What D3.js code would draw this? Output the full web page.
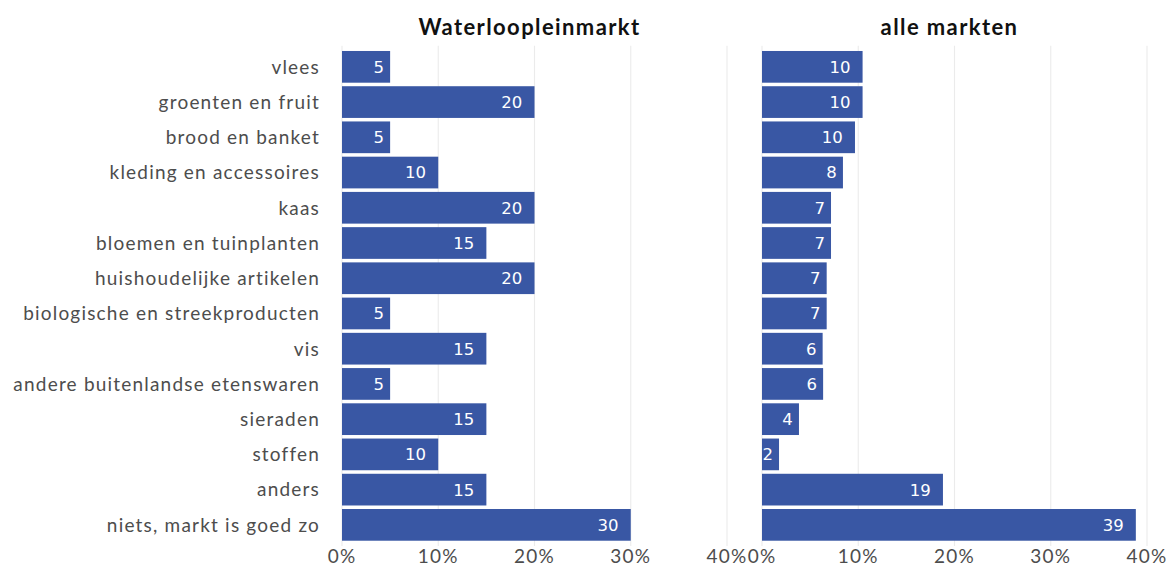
<!DOCTYPE html>
<html>
<head>
<meta charset="utf-8">
<script src="https://cdn.jsdelivr.net/npm/d3@7"></script>
<style>
  html, body { margin: 0; padding: 0; background: #fff; }
  svg { display: block; }
</style>
</head>
<body>
<svg id="chart" width="1166" height="567"></svg>
<script>
// Wat zou u graag meer op de markt zien? (% van de bezoekers)
const categories = [
  "vlees",
  "groenten en fruit",
  "brood en banket",
  "kleding en accessoires",
  "kaas",
  "bloemen en tuinplanten",
  "huishoudelijke artikelen",
  "biologische en streekproducten",
  "vis",
  "andere buitenlandse etenswaren",
  "sieraden",
  "stoffen",
  "anders",
  "niets, markt is goed zo"
];

const panelTitles = ["Waterloopleinmarkt", "alle markten"];

const waterlooplein = [5, 20, 5, 10, 20, 15, 20, 5, 15, 5, 15, 10, 15, 30];
const alleMarkten = [10.45, 10.45, 9.66, 8.41, 7.17, 7.17, 6.72, 6.72, 6.3, 6.35, 3.84, 1.77, 18.8, 38.84];

const xTicks = [0, 10, 20, 30, 40];

const series = [waterlooplein, alleMarkten];

const svg = d3.select("#chart");
const barColor = "#3957a4";
const textColor = "#4d4d4d";

const panelLefts = [342, 762];
const panelWidth = 385;
const panelTop = 45.7, panelBottom = 546;

const y = d3.scaleBand()
  .domain(categories)
  .range([panelTop, panelBottom])
  .paddingInner(0.1)
  .paddingOuter(0.15);

// category labels on the left
svg.append("g")
  .selectAll("text")
  .data(categories)
  .join("text")
  .attr("x", 320)
  .attr("y", d => y(d) + y.bandwidth() / 2)
  .attr("dy", "0.36em")
  .attr("text-anchor", "end")
  .attr("font-family", "Lato, sans-serif")
  .attr("font-size", 19)
  .attr("letter-spacing", 1.2)
  .attr("fill", textColor)
  .text(d => d);

series.forEach((values, i) => {
  const left = panelLefts[i];
  const x = d3.scaleLinear().domain([0, 40]).range([left, left + panelWidth]);
  const g = svg.append("g");

  // vertical grid lines
  g.selectAll("line.grid")
    .data(xTicks)
    .join("line")
    .attr("class", "grid")
    .attr("x1", d => x(d)).attr("x2", d => x(d))
    .attr("y1", panelTop).attr("y2", panelBottom)
    .attr("stroke", "#ebebeb")
    .attr("stroke-width", 1.1);

  // bars
  g.selectAll("rect")
    .data(values)
    .join("rect")
    .attr("x", x(0))
    .attr("y", (d, j) => y(categories[j]))
    .attr("width", d => x(d) - x(0))
    .attr("height", y.bandwidth())
    .attr("fill", barColor);

  // value labels inside the bar ends
  g.selectAll("text.val")
    .data(values)
    .join("text")
    .attr("class", "val")
    .attr("y", (d, j) => y(categories[j]) + y.bandwidth() / 2)
    .attr("dy", "0.36em")
    .attr("text-anchor", "end")
    .attr("font-family", "'DejaVu Sans', sans-serif")
    .attr("font-size", 16.5)
    .attr("fill", "#ffffff")
    .text(d => Math.round(d))
    .each(function(d) {
      const w = this.getComputedTextLength();
      d3.select(this).attr("x", x(d) - 0.58 * w);
    });

  // x axis tick labels
  g.selectAll("text.tick")
    .data(xTicks)
    .join("text")
    .attr("class", "tick")
    .attr("x", d => x(d))
    .attr("y", 563)
    .attr("text-anchor", "middle")
    .attr("font-family", "Lato, sans-serif")
    .attr("font-size", 19)
    .attr("letter-spacing", 1.2)
    .attr("fill", textColor)
    .text(d => d + "%");

  // panel title
  g.append("text")
    .attr("x", left + panelWidth / 2 - 5)
    .attr("y", 35)
    .attr("text-anchor", "middle")
    .attr("font-family", "Lato, sans-serif")
    .attr("font-weight", "bold")
    .attr("font-size", 22)
    .attr("letter-spacing", 1.4)
    .attr("fill", "#111")
    .text(panelTitles[i]);
});
</script>
</body>
</html>
